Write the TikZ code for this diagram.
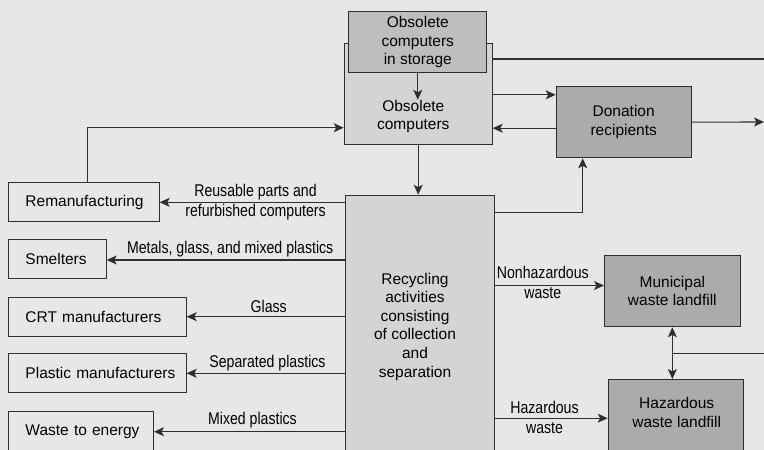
\documentclass[tikz,border=0pt]{standalone}
\usepackage{fontspec}
\setmainfont{Liberation Sans}
\newfontfamily\condfont[FakeStretch=0.83]{Liberation Sans}
\usetikzlibrary{arrows.meta,calc}
\definecolor{bgc}{HTML}{E6E7E9}
\definecolor{lightf}{HTML}{D4D4D4}
\definecolor{midf}{HTML}{BEBEBE}
\definecolor{darkf}{HTML}{ABABAB}
\definecolor{linec}{HTML}{2E2E2E}
\tikzset{
  boxbase/.style={draw=linec, line width=1pt, inner sep=0pt, font=\fontsize{15.5}{18.6}\selectfont, align=center},
  lbox/.style={boxbase, anchor=north west, minimum height=39pt, align=left},
  tip/.tip={Stealth[length=10pt,width=9pt,inset=2.5pt]},
  arr/.style={draw=linec, line width=1.1pt, -tip},
  darr/.style={draw=linec, line width=1.1pt, tip-tip},
  plain/.style={draw=linec, line width=1.1pt},
  lab/.style={inner sep=0pt, font=\condfont\fontsize{17}{20}\selectfont, align=center, text=black},
  btxt/.style={inner sep=0pt, font=\fontsize{15.5}{18.6}\selectfont, align=center},
}
\begin{document}
\begin{tikzpicture}[x=1pt,y=-1pt]
\fill[bgc] (0,0) rectangle (764,450);
\useasboundingbox (0,0) rectangle (764,450);
\clip (0,0) rectangle (764,450);
% top boxes
\node[boxbase, fill=lightf, minimum width=148pt, minimum height=100.7pt, anchor=north west] (obs) at (343.7,43.3) {};
\node[boxbase, fill=midf, minimum width=138pt, minimum height=61.3pt, anchor=north west] (stor) at (348.3,11) {Obsolete\\computers\\in storage};
\node[btxt] (obstxt) at (413.3,116.5) {Obsolete\\computers};
\node[boxbase, fill=darkf, minimum width=135pt, minimum height=71.3pt, anchor=north west] (don) at (555.7,86) {Donation\\recipients};
% recycling
\node[boxbase, fill=lightf, minimum width=149pt, minimum height=280pt, anchor=north west] (rec) at (344.7,194.7) {};
\node[btxt] (rectxt) at (415,326.5) {Recycling\\activities\\consisting\\of collection\\and\\separation};
% left boxes
\node[lbox, text width=150.7pt] (reman) at (8,182.3) {\hspace*{17pt}Remanufacturing};
\node[lbox, text width=97.7pt] (smel) at (8,239) {\hspace*{17pt}Smelters};
\node[lbox, text width=177.7pt] (crt) at (8,296.7) {\hspace*{17pt}CRT manufacturers};
\node[lbox, text width=177.7pt] (plas) at (8,353.3) {\hspace*{17pt}Plastic manufacturers};
\node[lbox, text width=145pt, minimum height=41pt] (wte) at (8,410.7) {\hspace*{17pt}Waste to energy};
% right boxes
\node[boxbase, fill=darkf, minimum width=135.7pt, minimum height=71.6pt, anchor=north west] (mun) at (604,254.7) {Municipal\\waste landfill};
\node[boxbase, fill=darkf, minimum width=135.3pt, minimum height=80pt, anchor=north west] (haz) at (607.7,379) {};
\node[btxt] (haztxt) at (676.7,412.5) {Hazardous\\waste landfill};
% edge coordinates
\coordinate (rE1) at (764,59);
\coordinate (rE2) at (764,122);
\coordinate (rE3) at (764,353.3);
\coordinate (d1) at ([yshift=27.35pt]don.west);
\coordinate (d2) at ([yshift=-6.05pt]don.west);
\coordinate (k1) at (582.7,212.3);
\coordinate (k2) at (87.7,127.7);
\coordinate (s1) at (0,260);
\coordinate (m1) at ([yshift=5.5pt]mun.west);
\coordinate (h1) at ([yshift=1.3pt]haz.west);
% connectors
\draw[arr] (stor.south) -- (stor.south |- obstxt.north);
\draw[plain] (obs.east |- rE1) -- (rE1);
\draw[arr] (obs.east |- d1) -- (d1);
\draw[arr] (d2) -- (obs.east |- d2);
\draw[arr] (don.east) -- (rE2);
\draw[arr] (obs.south) -- (obs.south |- rec.north);
\draw[arr] (rec.east |- k1) -- (k1) -- (k1 |- don.south);
\draw[arr] (reman.north -| k2) -- (k2) -- (obs.west |- k2);
\draw[arr] (rec.west |- reman.east) -- (reman.east);
\draw[arr] (rec.west |- s1) -- (smel.east |- s1);
\draw[arr] (rec.west |- crt.east) -- (crt.east);
\draw[arr] (rec.west |- plas.east) -- (plas.east);
\draw[arr] (rec.west |- wte.east) -- (wte.east);
\draw[arr] (rec.east |- m1) -- (m1);
\draw[arr] (rec.east |- h1) -- (h1);
\draw[darr] (mun.south) -- (mun.south |- haz.north);
\draw[plain] (mun.south |- rE3) -- (rE3);
% labels
\node[lab] (l1) at (255.5,202) {Reusable parts and\\refurbished computers};
\node[lab] (l2) at (230.2,249.5) {Metals, glass, and mixed plastics};
\node[lab] (l3) at (268.7,306.2) {Glass};
\node[lab] (l4) at (267.5,362.8) {Separated plastics};
\node[lab] (l5) at (252.5,420.2) {Mixed plastics};
\node[lab] (l6) at (542.8,282.8) {Nonhazardous\\waste};
\node[lab] (l7) at (544.5,417) {Hazardous\\waste};
\end{tikzpicture}
\end{document}
